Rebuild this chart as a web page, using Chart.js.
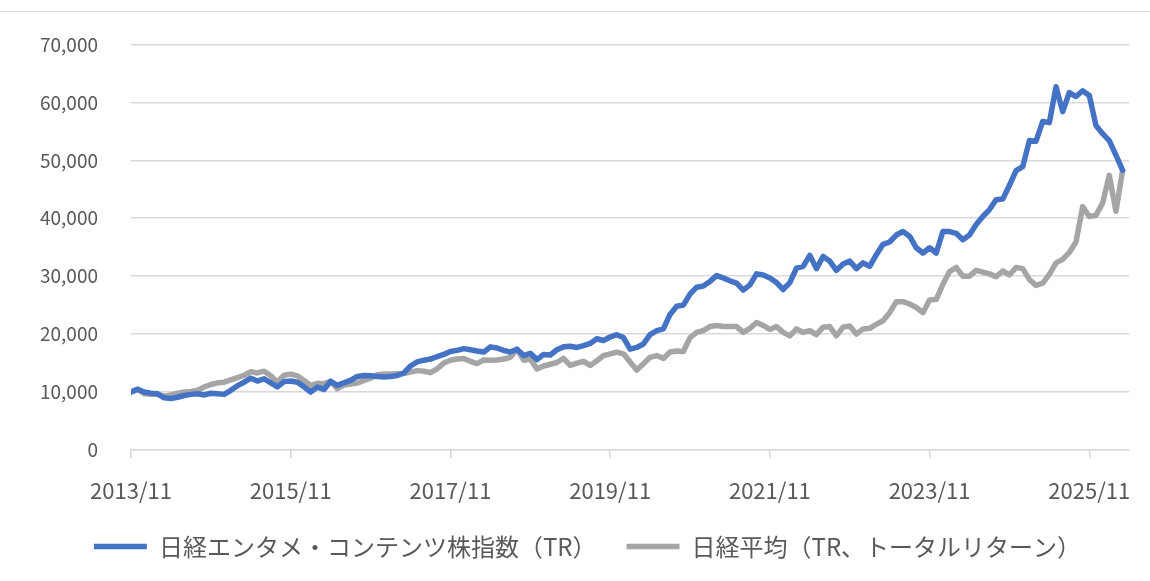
<!DOCTYPE html>
<html lang="ja">
<head>
<meta charset="UTF-8">
<script src="https://cdn.jsdelivr.net/npm/chart.js"></script>
<title>日経エンタメ・コンテンツ株指数</title>
<style>
  html, body { margin: 0; padding: 0; background: #fff; }
  #wrap { position: relative; width: 1150px; height: 581px; }
  #frame { position: absolute; left: 0; top: 11px; width: 1150px; border-top: 1px solid #d9d9d9; }
  canvas { position: absolute; left: 0; top: 0; }
</style>
</head>
<body>
<div id="wrap">
  <div id="frame"></div>
  <canvas id="chart" width="1150" height="581"></canvas>
</div>

<script>
// monthly index values, 2013/11 = 10,000
const entameTR = [
  10000, 10500, 10000, 9800, 9700, 9000, 8900, 9100, 9400, 9600,
  9700, 9500, 9800, 9700, 9600, 10300, 11100, 11700, 12400, 11900,
  12300, 11600, 10900, 11800, 11900, 11700, 10900, 10000, 10850, 10450,
  11850, 11150, 11600, 12000, 12700, 12850, 12800, 12700, 12600, 12700,
  12850, 13300, 14500, 15200, 15500, 15700, 16100, 16500, 17000, 17200,
  17500, 17300, 17100, 16900, 17800, 17600, 17200, 16900, 17400, 16300,
  16700, 15600, 16500, 16400, 17300, 17800, 17900, 17700, 18000, 18400,
  19200, 18900, 19500, 19900, 19400, 17400, 17700, 18300, 19900, 20600,
  20900, 23400, 24800, 25000, 26900, 28100, 28300, 29100, 30100, 29700,
  29200, 28800, 27600, 28500, 30400, 30200, 29700, 28900, 27700, 28900,
  31400, 31700, 33600, 31300, 33400, 32600, 31000, 32100, 32600, 31300,
  32300, 31700, 33700, 35500, 35900, 37100, 37700, 36900, 34900, 34000,
  34900, 34000, 37700, 37700, 37400, 36300, 37100, 38900, 40300, 41500,
  43200, 43300, 45700, 48200, 48900, 53400, 53300, 56700, 56500, 62700,
  58400, 61700, 61000, 62000, 61200, 56000, 54600, 53400, 50900, 48300
];

const nikkeiTR = [
  10000, 10500, 9700, 9600, 9600, 9300, 9500, 9800, 10000, 10100,
  10300, 10900, 11300, 11600, 11700, 12100, 12500, 12900, 13500, 13300,
  13600, 12800, 11700, 12900, 13100, 12800, 12000, 11150, 11500, 11450,
  11850, 10600, 11200, 11400, 11550, 12000, 12400, 13000, 13100, 13100,
  13150, 13200, 13450, 13700, 13600, 13350, 14000, 15000, 15500, 15700,
  15800, 15300, 14900, 15550, 15500, 15550, 15700, 16000, 17400, 15500,
  15700, 14000, 14500, 14800, 15100, 15800, 14600, 15000, 15300, 14600,
  15400, 16300, 16600, 16900, 16600, 15200, 13800, 14900, 16000, 16300,
  15800, 16900, 17100, 17000, 19400, 20300, 20600, 21300, 21500, 21300,
  21300, 21300, 20300, 21000, 22000, 21500, 20800, 21300, 20300, 19700,
  20900, 20300, 20600, 19900, 21200, 21300, 19700, 21200, 21400, 20000,
  20900, 21000, 21700, 22300, 23700, 25600, 25600, 25200, 24600, 23700,
  25900, 26000, 28600, 30800, 31500, 30000, 30000, 31000, 30700, 30400,
  29900, 30900, 30200, 31500, 31300, 29400, 28400, 28800, 30300, 32300,
  32900, 34100, 35900, 42000, 40300, 40500, 42600, 47400, 41200, 48200
];

const seriesNames = ['日経エンタメ・コンテンツ株指数（TR）', '日経平均（TR、トータルリターン）'];
const tickMonths = [0, 24, 48, 72, 96, 120, 144];
const yTicks = [0, 10000, 20000, 30000, 40000, 50000, 60000, 70000];

// month labels from 2013/11
const months = [];
for (let i = 0; i <= 150; i++) {
    const m = 10 + i;
    const y = 2013 + Math.floor(m / 12);
    months.push(y + '/' + String(m % 12 + 1).padStart(2, '0'));
}

const toPoints = arr => arr.map((v, i) => ({ x: i, y: v }));

Chart.defaults.font.family = "'Noto Sans CJK JP', 'Noto Sans', sans-serif";
Chart.defaults.color = '#595959';

// nudge the legend a little to the right, like the original
const legendShift = {
    id: 'legendShift',
    afterLayout(chart) {
        chart.legend.left += 22;
        chart.legend.right += 22;
    }
};

const ctx = document.getElementById('chart').getContext('2d');
new Chart(ctx, {
    type: 'line',
    data: {
        datasets: [
            {
                label: seriesNames[0],
                data: toPoints(entameTR),
                borderColor: '#4472C4',
                backgroundColor: '#4472C4',
                borderWidth: 5.5,
                borderCapStyle: 'round',
                borderJoinStyle: 'round',
                pointRadius: 0,
                tension: 0
            },
            {
                label: seriesNames[1],
                data: toPoints(nikkeiTR),
                borderColor: '#A5A5A5',
                backgroundColor: '#A5A5A5',
                borderWidth: 5.5,
                borderCapStyle: 'round',
                borderJoinStyle: 'round',
                pointRadius: 0,
                tension: 0
            }
        ]
    },
    plugins: [legendShift],
    options: {
        responsive: false,
        animation: false,
        layout: { padding: { top: 30, right: 19, bottom: 12.6, left: 0 } },
        plugins: {
            tooltip: { enabled: false },
            legend: {
                position: 'bottom',
                labels: {
                    usePointStyle: true,
                    pointStyle: 'line',
                    pointStyleWidth: 53,
                    padding: 30,
                    font: { size: 24 },
                    color: '#595959'
                }
            }
        },
        scales: {
            x: {
                type: 'linear',
                min: 0,
                max: 150,
                afterBuildTicks: axis => { axis.ticks = tickMonths.map(v => ({ value: v })); },
                afterFit: scale => { scale.height = 54.4; },
                ticks: {
                    callback: v => months[v],
                    font: { size: 22 },
                    padding: 19,
                    maxRotation: 0,
                    autoSkip: false
                },
                grid: {
                    drawOnChartArea: false,
                    drawTicks: true,
                    tickLength: 8,
                    color: '#d9d9d9',
                    lineWidth: 1.5
                },
                border: { display: true, color: '#d9d9d9', width: 1.5 }
            },
            y: {
                min: 0,
                max: 70000,
                afterBuildTicks: axis => { axis.ticks = yTicks.map(v => ({ value: v })); },
                afterFit: scale => { scale.width = 131; },
                ticks: {
                    callback: v => v.toLocaleString('en-US'),
                    font: { size: 19 },
                    padding: 33
                },
                grid: {
                    drawTicks: false,
                    color: '#d9d9d9',
                    lineWidth: 1.5
                },
                border: { display: false }
            }
        }
    }
});
</script>
</body>
</html>
